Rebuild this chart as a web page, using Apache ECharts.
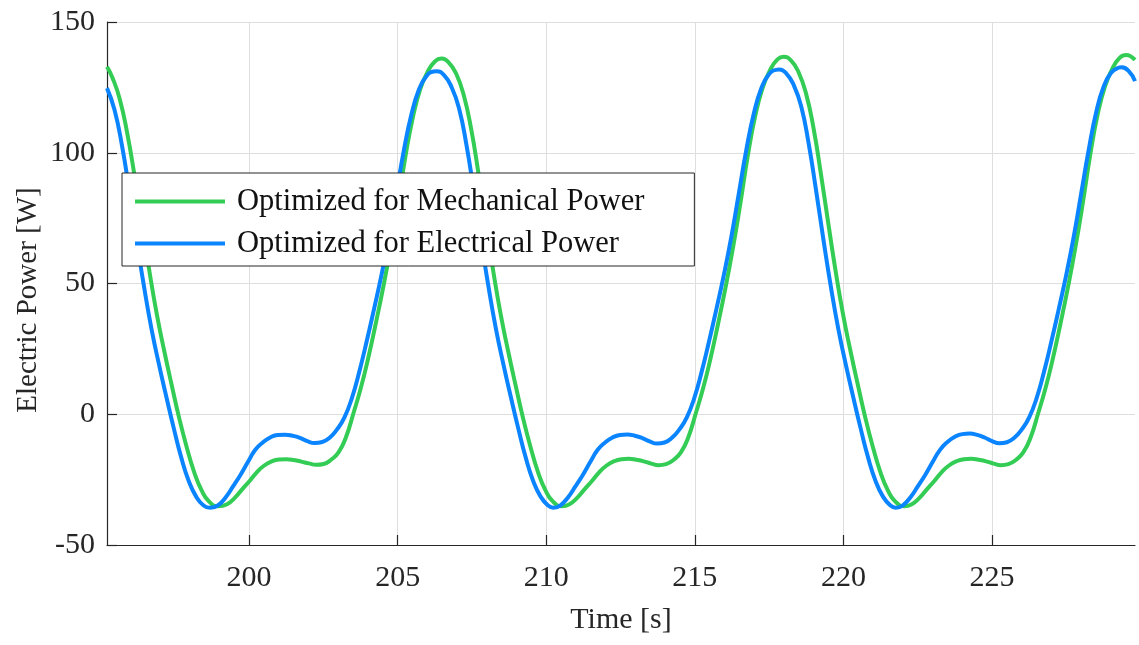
<!DOCTYPE html>
<html>
<head>
<meta charset="utf-8">
<script src="https://cdn.jsdelivr.net/npm/echarts@6/dist/echarts.min.js"></script>
<style>
html,body{margin:0;padding:0;background:#fff;}
#chart{width:1139px;height:645px;}
</style>
</head>
<body>
<div id="chart"></div>
<script>
// ---- Data ----
const xTicks = [200, 205, 210, 215, 220, 225];
const seriesNames = ['Optimized for Mechanical Power', 'Optimized for Electrical Power'];

const mechTime = [195.22,195.40,195.65,195.90,196.15,196.40,196.65,196.90,197.15,197.40,197.65,197.90,198.15,198.40,198.65,198.96,
  199.26,199.51,199.76,200.01,200.26,200.51,200.76,201.01,201.26,201.51,201.76,202.01,202.26,202.51,202.76,203.01,203.26,203.51,203.76,204.01,204.26,204.51,204.76,205.01,205.26,205.51,205.76,206.01,206.26,206.47,
  206.72,206.97,207.22,207.47,207.72,207.97,208.22,208.47,208.72,208.97,209.22,209.47,209.72,209.97,210.22,210.53,
  210.78,211.03,211.28,211.53,211.78,212.03,212.28,212.53,212.78,213.03,213.28,213.53,213.78,214.03,214.28,214.53,214.78,215.03,215.28,215.53,215.78,216.03,216.28,216.53,216.78,217.03,217.28,217.53,217.78,217.99,
  218.24,218.49,218.74,218.99,219.24,219.49,219.74,219.99,220.24,220.49,220.74,220.99,221.24,221.49,221.74,222.05,
  222.30,222.55,222.80,223.05,223.30,223.55,223.80,224.05,224.30,224.55,224.80,225.05,225.30,225.55,225.80,226.05,226.30,226.55,226.80,227.05,227.30,227.55,227.80,228.05,228.30,228.55,228.80,229.05,229.30,229.51,229.81];
const mechPower = [132.9,128.8,120.5,107.5,91,73,54.5,38,24,11,-1.5,-12.5,-22,-29,-33.3,-35.2,
  -34.4,-32.1,-28.8,-25.6,-22.2,-19.6,-18.0,-17.3,-17.2,-17.5,-18.1,-18.8,-19.3,-19.0,-17.4,-14.6,-8.8,0.3,10,21.5,34.5,48.3,63.5,80.5,98.5,113.5,124.3,131.0,135.0,136.0,
  134.5,130.2,122.2,109.3,92,73,54.5,38,24,11,-1.5,-12.5,-22,-29,-33.3,-35.2,
  -34.4,-32.1,-28.8,-25.6,-22.2,-19.6,-18.0,-17.2,-17.0,-17.4,-18.0,-18.9,-19.5,-19.1,-17.5,-14.6,-8.8,0.3,10,21.5,34.5,48.3,63.5,80.5,98.8,114,124.8,131.6,135.7,136.7,
  135.2,130.8,122.7,109.6,92,73,54.5,38,24,11,-1.5,-12.5,-22,-29,-33.3,-35.2,
  -34.4,-32.1,-28.8,-25.6,-22.2,-19.6,-18.0,-17.2,-17.0,-17.4,-18.0,-18.9,-19.5,-19.1,-17.5,-14.6,-8.8,0.3,10,21.5,34.5,48.3,63.5,80.5,99,114.5,125.4,132.2,136.4,137.4,135.5];

const elecTime = [195.22,195.47,195.72,195.97,196.22,196.47,196.72,196.97,197.22,197.47,197.72,197.97,198.22,198.47,198.69,
  198.96,199.21,199.46,199.71,199.96,200.21,200.46,200.71,200.96,201.21,201.46,201.71,201.96,202.21,202.46,202.71,202.96,203.21,203.46,203.71,203.96,204.21,204.46,204.71,204.96,205.21,205.46,205.71,205.96,206.21,206.31,
  206.56,206.81,207.06,207.31,207.56,207.81,208.06,208.31,208.56,208.81,209.06,209.31,209.56,209.81,210.06,210.24,
  210.48,210.73,210.98,211.23,211.48,211.73,211.98,212.23,212.48,212.73,212.98,213.23,213.48,213.73,213.98,214.23,214.48,214.73,214.98,215.23,215.48,215.73,215.98,216.23,216.48,216.73,216.98,217.23,217.48,217.73,217.83,
  218.08,218.33,218.58,218.83,219.08,219.33,219.58,219.83,220.08,220.33,220.58,220.83,221.08,221.33,221.58,221.76,
  222.00,222.25,222.50,222.75,223.00,223.25,223.50,223.75,224.00,224.25,224.50,224.75,225.00,225.25,225.50,225.75,226.00,226.25,226.50,226.75,227.00,227.25,227.50,227.75,228.00,228.25,228.50,228.75,229.00,229.25,229.35,229.60,229.81];
const elecPower = [124.7,116.5,103,85.5,66.5,48.5,32.5,19,6.5,-5.5,-16.6,-25.5,-31.5,-34.9,-35.8,
  -34.8,-31.8,-27.6,-23.2,-18.3,-13.6,-10.8,-8.9,-7.9,-7.8,-8.2,-9.0,-10.3,-11.0,-10.6,-9.0,-5.8,-1.2,6.2,16.3,28,40.5,53.5,68,84.5,101,114.5,124,129.2,131.1,131.2,
  129.7,125.2,117.2,103.3,85.5,66.5,48.5,32.5,19,6.5,-5.5,-16.6,-25.5,-31.5,-34.9,-35.8,
  -34.8,-31.8,-27.6,-23.2,-18.3,-13.6,-10.8,-8.9,-7.9,-7.7,-8.2,-9.1,-10.4,-11.2,-10.8,-9.0,-5.8,-1.2,6.2,16.3,28,40.5,53.5,68,84.5,101,114.8,124.5,129.8,131.7,131.8,
  130.3,125.8,117.7,103.5,85.5,66.5,48.5,32.5,19,6.5,-5.5,-16.6,-25.5,-31.5,-34.9,-35.8,
  -34.8,-31.8,-27.6,-23.2,-18.3,-13.6,-10.6,-8.6,-7.6,-7.4,-7.9,-8.9,-10.3,-11.1,-10.7,-9.0,-5.8,-1.2,6.2,16.3,28,40.5,53.5,68,84.5,101,115.3,125.2,130.5,132.5,132.7,131.2,127.4];

// ---- Chart ----
const pair = (t, v) => t.map((x, i) => [x, v[i]]);
const FONT = '"Liberation Serif", "DejaVu Serif", serif';
const AXIS_COLOR = '#262626';
const GRID_COLOR = '#dedede';
const GREEN = '#33cc55';
const BLUE = '#0a84ff';

const chart = echarts.init(document.getElementById('chart'), null, {renderer: 'canvas'});
chart.setOption({
  animation: false,
  backgroundColor: '#ffffff',
  grid: {left: 107, right: 4, top: 22, bottom: 100, containLabel: false, outerBoundsMode: 'none'},
  xAxis: {
    type: 'value', min: 195.22, max: 229.81,
    name: 'Time [s]', nameLocation: 'middle', nameGap: 60,
    nameTextStyle: {fontFamily: FONT, fontSize: 30, color: '#262626', verticalAlign: 'top'},
    axisLine: {show: true, onZero: false, lineStyle: {color: AXIS_COLOR, width: 1.2}},
    axisTick: {show: true, inside: true, length: 10, customValues: xTicks, lineStyle: {color: AXIS_COLOR, width: 1.2}},
    axisLabel: {customValues: xTicks, margin: 18, fontFamily: FONT, fontSize: 30, color: '#262626'},
    splitLine: {show: true, lineStyle: {color: GRID_COLOR, width: 1}}
  },
  yAxis: {
    type: 'value', min: -50, max: 150, interval: 50,
    axisLine: {show: true, onZero: false, lineStyle: {color: AXIS_COLOR, width: 1.2}},
    axisTick: {show: true, inside: true, length: 10, lineStyle: {color: AXIS_COLOR, width: 1.2}},
    axisLabel: {margin: 12, fontFamily: FONT, fontSize: 30, color: '#262626'},
    splitLine: {show: true, lineStyle: {color: GRID_COLOR, width: 1}}
  },
  legend: {
    left: 122, top: 173, orient: 'vertical',
    data: seriesNames,
    icon: 'rect', itemWidth: 90, itemHeight: 4, itemGap: 11,
    padding: [13, 50, 7, 13],
    backgroundColor: '#ffffff', borderColor: '#262626', borderWidth: 1,
    textStyle: {fontFamily: FONT, fontSize: 30.5, color: '#111', padding: [0, 0, 0, 7]},
    z: 10
  },
  graphic: [{
    type: 'text', x: 28, y: 300, rotation: Math.PI / 2,
    style: {text: 'Electric Power [W]', fontFamily: FONT, fontSize: 29, fill: '#262626', align: 'center', verticalAlign: 'middle'}
  }],
  series: [
    {name: seriesNames[0], type: 'line', data: pair(mechTime, mechPower), smooth: 0.5, showSymbol: false,
     lineStyle: {color: GREEN, width: 4}, itemStyle: {color: GREEN}, z: 2},
    {name: seriesNames[1], type: 'line', data: pair(elecTime, elecPower), smooth: 0.5, showSymbol: false,
     lineStyle: {color: BLUE, width: 4}, itemStyle: {color: BLUE}, z: 3}
  ]
});
</script>
</body>
</html>
